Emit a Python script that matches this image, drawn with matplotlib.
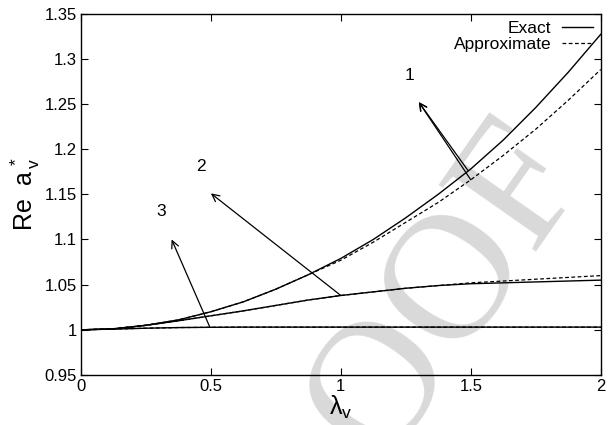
import numpy as np
import matplotlib
matplotlib.use("Agg")
import matplotlib.pyplot as plt
from matplotlib.ticker import FormatStrFormatter, MultipleLocator

plt.rcParams['font.family'] = ['Liberation Sans', 'DejaVu Sans']
plt.rcParams['mathtext.fontset'] = 'custom'
plt.rcParams['mathtext.rm'] = 'Liberation Sans'
plt.rcParams['mathtext.it'] = 'Liberation Sans'

lam = [0, 0.125, 0.25, 0.375, 0.5, 0.625, 0.75, 0.875, 1.0,
       1.125, 1.25, 1.375, 1.5, 1.625, 1.75, 1.875, 2.0]

# curve 1
exact1 = [1.000, 1.0012, 1.005, 1.011, 1.020, 1.031, 1.045, 1.061, 1.079,
          1.100, 1.124, 1.150, 1.178, 1.210, 1.246, 1.285, 1.327]
approx1 = [1.000, 1.0012, 1.005, 1.011, 1.020, 1.031, 1.045, 1.061, 1.077,
           1.097, 1.119, 1.141, 1.166, 1.193, 1.222, 1.254, 1.288]
# curve 2
exact2 = [1.000, 1.001, 1.005, 1.010, 1.0155, 1.021, 1.027, 1.033, 1.038,
          1.042, 1.046, 1.049, 1.051, 1.052, 1.053, 1.054, 1.055]
approx2 = [1.000, 1.001, 1.005, 1.010, 1.0155, 1.021, 1.027, 1.033, 1.038,
           1.042, 1.046, 1.049, 1.052, 1.054, 1.056, 1.058, 1.060]
# curve 3
exact3 = [1.000, 1.0008, 1.0018, 1.0025, 1.0028, 1.003, 1.003, 1.003, 1.003,
          1.003, 1.003, 1.003, 1.003, 1.003, 1.003, 1.003, 1.003]
approx3 = exact3

# arrows: (start, tip) and labels
arrows = [((1.49, 1.176), (1.30, 1.252)),
          ((1.50, 1.166), (1.30, 1.252)),
          ((1.00, 1.038), (0.50, 1.151)),
          ((0.496, 1.003), (0.349, 1.100))]
labels = [("1", 1.265, 1.281), ("2", 0.4615, 1.1805), ("3", 0.31, 1.131)]

fig = plt.figure(figsize=(6.13, 4.25), dpi=100)
ax = fig.add_axes([0.132, 0.1176, 0.848, 0.8506])

# PROOF watermark behind everything
ax.text(0.631, 0.099, "PROOF", transform=fig.transFigure, fontsize=130,
        family='Liberation Serif', color='#d9d9d9', rotation=55,
        ha='center', va='center', zorder=0, clip_on=False)

ax.plot(lam, exact1, color='black', lw=1.0, label='Exact', zorder=3)
ax.plot(lam, approx1, color='black', lw=0.9, ls=(0, (3, 2)), label='Approximate', zorder=3)
ax.plot(lam, exact2, color='black', lw=1.0, zorder=3)
ax.plot(lam, approx2, color='black', lw=0.9, ls=(0, (3, 2)), zorder=3)
ax.plot(lam, exact3, color='black', lw=1.0, zorder=3)
ax.plot(lam, approx3, color='black', lw=0.9, ls=(0, (3, 2)), zorder=3)

for (s, t) in arrows:
    ax.annotate("", xy=t, xytext=s,
                arrowprops=dict(arrowstyle='->', lw=0.9, color='black',
                                mutation_scale=13, shrinkA=0, shrinkB=0))
for (txt, x, y) in labels:
    ax.text(x, y, txt, fontsize=12.5, ha='center', va='center')

ax.set_xlim(0, 2)
ax.set_ylim(0.95, 1.35)
ax.xaxis.set_major_locator(MultipleLocator(0.5))
ax.yaxis.set_major_locator(MultipleLocator(0.05))
ax.xaxis.set_major_formatter(FormatStrFormatter('%g'))
ax.yaxis.set_major_formatter(FormatStrFormatter('%g'))
ax.tick_params(direction='in', top=True, right=True, labelsize=12,
               length=5, width=0.8, pad=3)
for sp in ax.spines.values():
    sp.set_linewidth(1.0)

ax.set_xlabel(r'$\lambda_{\rm v}$', fontsize=18, labelpad=0)
ax.set_ylabel(r'Re  a$^{\,*}_{\,\rm v}$', fontsize=18, labelpad=2)

ax.legend(loc='upper right', bbox_to_anchor=(1.0, 1.0), frameon=False,
          markerfirst=False, fontsize=12.5, handlelength=1.8,
          handletextpad=0.6, labelspacing=0.0, borderaxespad=0.05)

fig.savefig("out.png", dpi=100)
